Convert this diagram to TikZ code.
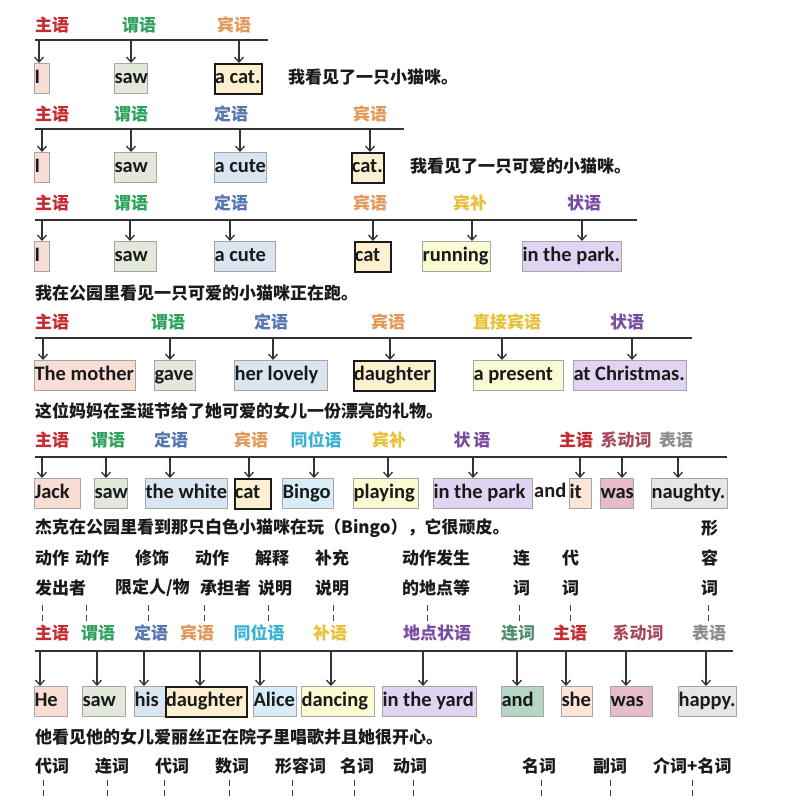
\documentclass[tikz,border=0pt]{standalone}
\usepackage{fontspec}
\setmainfont{Carlito}
\newfontfamily\cjk{Noto Sans CJK SC}
\usetikzlibrary{arrows.meta}
\definecolor{csubj}{HTML}{C42B32}
\definecolor{cpred}{HTML}{2FA35E}
\definecolor{cattr}{HTML}{5677B0}
\definecolor{cobj}{HTML}{E29A5C}
\definecolor{cappo}{HTML}{3AB3D3}
\definecolor{ccomp}{HTML}{E8C13A}
\definecolor{cadv}{HTML}{7A4C9F}
\definecolor{clink}{HTML}{A64A5E}
\definecolor{cpn}{HTML}{8C8C8C}
\definecolor{cconj}{HTML}{4E8C6E}
\definecolor{fsubjc}{HTML}{F8DDD5}
\definecolor{fpredc}{HTML}{E2E8DA}
\definecolor{fattrc}{HTML}{DAE5F2}
\definecolor{fobjc}{HTML}{FDF0D0}
\definecolor{fcompc}{HTML}{FBFBD3}
\definecolor{fadvc}{HTML}{E1D4F3}
\definecolor{fappoc}{HTML}{D8EDF8}
\definecolor{fitc}{HTML}{FCE4D6}
\definecolor{fwasc}{HTML}{E6BCC8}
\definecolor{fpnc}{HTML}{E6E6E6}
\definecolor{fandc}{HTML}{B5D6C6}
\definecolor{boxgray}{HTML}{A6A6A6}
\definecolor{ink}{HTML}{1A1A1A}
\tikzset{
  lab/.style={font=\cjk\bfseries\fontsize{17}{17}\selectfont, inner sep=0pt},
  sent/.style={font=\cjk\bfseries\fontsize{17}{17}\selectfont, inner sep=0pt, anchor=west, text=ink},
  desc/.style={font=\cjk\bfseries\fontsize{17}{17}\selectfont, inner sep=0pt, anchor=west, text=ink},
  wfont/.style={font=\bfseries\fontsize{20.5}{20.5}\selectfont, text height=15pt, text depth=5.5pt, text=ink},
  wbox/.style={wfont, draw=boxgray, line width=1pt, anchor=north west, inner xsep=0pt, inner ysep=0pt,
    minimum height=30pt},
  fsubj/.style={fill=fsubjc}, fpred/.style={fill=fpredc}, fattr/.style={fill=fattrc},
  fcomp/.style={fill=fcompc}, fadv/.style={fill=fadvc}, fappo/.style={fill=fappoc},
  fit/.style={fill=fitc}, fwas/.style={fill=fwasc}, fpn/.style={fill=fpnc}, fand/.style={fill=fandc},
  objb/.style={fill=fobjc, draw=ink, line width=1.6pt},
  rail/.style={line width=1.8pt, draw=black!80},
  arr/.style={line width=1.3pt, draw=black!80, -{Straight Barb[length=5pt,width=9pt]}},
  dsh/.style={line width=1pt, draw=black!75, dash pattern=on 6pt off 4pt},
}
\newcommand\wbx[6]{\node[wbox,#5] (#1) at (#2,#4) {\makebox[#3pt][l]{#6}};}
\newcommand\arw[4]{\coordinate (#1) at (#2,#3); \draw[arr] (#1) -- (#1 |- #4.north);}
\newcommand\dline[5]{\coordinate (#1a) at (#2,#3); \coordinate (#1b) at (#2,#4); \draw[dsh] (#1a) -- (#1b);}
\begin{document}
\begin{tikzpicture}[x=1pt,y=-1pt]
\fill[white] (0,0) rectangle (800,800);
\useasboundingbox (0,0) rectangle (800,800);

% ---------- Row 1 ----------
\node[lab,text=csubj] (l11) at (52,25) {主语};
\node[lab,text=cpred] (l12) at (139,25) {谓语};
\node[lab,text=cobj] (l13) at (234,25) {宾语};
\draw[rail] (35,40) coordinate (r1L) -- (268,40) coordinate (r1R);
\wbx{b11}{34}{15}{63}{fsubj}{I}
\wbx{b12}{114}{33}{63}{fpred}{saw}
\wbx{b13}{214}{47}{63}{objb}{a cat.}
\arw{a11}{39}{40}{b11}
\arw{a12}{131}{40}{b12}
\arw{a13}{239}{40}{b13}
\node[sent] (s1) at (288,77) {我看见了一只小猫咪。};

% ---------- Row 2 ----------
\node[lab,text=csubj] (l21) at (52,114) {主语};
\node[lab,text=cpred] (l22) at (131,114) {谓语};
\node[lab,text=cattr] (l23) at (231,114) {定语};
\node[lab,text=cobj] (l24) at (370,114) {宾语};
\draw[rail] (35,129) coordinate (r2L) -- (404,129) coordinate (r2R);
\wbx{b21}{34}{15}{152}{fsubj}{I}
\wbx{b22}{114}{42}{152}{fpred}{saw}
\wbx{b23}{214}{52}{152}{fattr}{a cute}
\wbx{b24}{351}{32}{152}{objb}{cat.}
\arw{a21}{42}{129}{b21}
\arw{a22}{131}{129}{b22}
\arw{a23}{240}{129}{b23}
\arw{a24}{370}{129}{b24}
\node[sent] (s2) at (410,166) {我看见了一只可爱的小猫咪。};

% ---------- Row 3 ----------
\node[lab,text=csubj] (l31) at (52,203) {主语};
\node[lab,text=cpred] (l32) at (131,203) {谓语};
\node[lab,text=cattr] (l33) at (231,203) {定语};
\node[lab,text=cobj] (l34) at (370,203) {宾语};
\node[lab,text=ccomp] (l35) at (470,203) {宾补};
\node[lab,text=cadv] (l36) at (584,203) {状语};
\draw[rail] (35,220) coordinate (r3L) -- (637,220) coordinate (r3R);
\wbx{b31}{34}{15}{241}{fsubj}{I}
\wbx{b32}{114}{42}{241}{fpred}{saw}
\wbx{b33}{214}{61}{241}{fattr}{a cute}
\wbx{b34}{354}{36}{241}{objb}{cat}
\wbx{b35}{422}{68}{241}{fcomp}{running}
\wbx{b36}{522}{99}{241}{fadv}{in the park.}
\arw{a31}{42}{220}{b31}
\arw{a32}{130}{220}{b32}
\arw{a33}{230}{220}{b33}
\arw{a34}{373}{220}{b34}
\arw{a35}{472}{220}{b35}
\arw{a36}{582}{220}{b36}
\node[sent] (s3) at (35,293) {我在公园里看见一只可爱的小猫咪正在跑。};

% ---------- Row 4 ----------
\node[lab,text=csubj] (l41) at (52,322) {主语};
\node[lab,text=cpred] (l42) at (168,322) {谓语};
\node[lab,text=cattr] (l43) at (271,322) {定语};
\node[lab,text=cobj] (l44) at (388,322) {宾语};
\node[lab,text=ccomp] (l45) at (507,322) {直接宾语};
\node[lab,text=cadv] (l46) at (627,322) {状语};
\draw[rail] (35,338) coordinate (r4L) -- (692,338) coordinate (r4R);
\wbx{b41}{34}{101}{360}{fsubj}{The mother}
\wbx{b42}{154}{41}{360}{fpred}{gave}
\wbx{b43}{234}{93}{360}{fattr}{her lovely}
\wbx{b44}{353}{81}{360}{objb}{daughter}
\wbx{b45}{473}{90}{360}{fcomp}{a present}
\wbx{b46}{573}{113}{360}{fadv}{at Christmas.}
\arw{a41}{43}{338}{b41}
\arw{a42}{170}{338}{b42}
\arw{a43}{273}{338}{b43}
\arw{a44}{390}{338}{b44}
\arw{a45}{502}{338}{b45}
\arw{a46}{632}{338}{b46}
\node[sent] (s4) at (35,411) {这位妈妈在圣诞节给了她可爱的女儿一份漂亮的礼物。};

% ---------- Row 5 ----------
\node[lab,text=csubj] (l51) at (52,440) {主语};
\node[lab,text=cpred] (l52) at (108,440) {谓语};
\node[lab,text=cattr] (l53) at (171,440) {定语};
\node[lab,text=cobj] (l54) at (251,440) {宾语};
\node[lab,text=cappo] (l55) at (316,440) {同位语};
\node[lab,text=ccomp] (l56) at (389,440) {宾补};
\node[lab,text=cadv] (l57) at (472,440) {状\,语};
\node[lab,text=csubj] (l58) at (576,440) {主语};
\node[lab,text=clink] (l59) at (626,440) {系动词};
\node[lab,text=cpn] (l5a) at (676,440) {表语};
\draw[rail] (35,457) coordinate (r5L) -- (727,457) coordinate (r5R);
\wbx{b51}{34}{46}{478}{fsubj}{Jack}
\wbx{b52}{94}{33}{478}{fpred}{saw}
\wbx{b53}{145}{82}{478}{fattr}{the white}
\wbx{b55}{282}{51}{478}{fappo}{Bingo}
\wbx{b56}{353}{65}{478}{fcomp}{playing}
\wbx{b57}{433}{99}{478}{fadv}{in the park}
\wbx{b58}{569}{22}{478}{fit}{it}
\wbx{b59}{600}{33}{478}{fwas}{was}
\wbx{b5a}{651}{76}{478}{fpn}{naughty.}
\wbx{b54}{234}{36}{478}{objb}{cat}
\node[wfont, inner sep=0pt, anchor=west] (and5) at (534,493) {and};
\arw{a51}{42}{457}{b51}
\arw{a52}{106}{457}{b52}
\arw{a53}{170}{457}{b53}
\arw{a54}{249}{457}{b54}
\arw{a55}{314}{457}{b55}
\arw{a56}{388}{457}{b56}
\arw{a57}{473}{457}{b57}
\arw{a58}{580}{457}{b58}
\arw{a59}{622}{457}{b59}
\arw{a5a}{678}{457}{b5a}
\node[sent] (s5) at (35,528) {杰克在公园里看到那只白色小猫咪在玩（Bingo），它很顽皮。};

% ---------- Row 6: functions ----------
\node[desc] (d1) at (35,558) {动作};
\node[desc] (d2) at (75,558) {动作};
\node[desc] (d3) at (135,558) {修饰};
\node[desc] (d4) at (195,558) {动作};
\node[desc] (d5) at (255,558) {解释};
\node[desc] (d6) at (315,558) {补充};
\node[desc] (d7) at (402,558) {动作发生};
\node[desc] (d8) at (513,558) {连};
\node[desc] (d9) at (562,558) {代};
\node[desc] (e1) at (35,588) {发出者};
\node[desc] (e3) at (115,588) {限定人/物};
\node[desc] (e4) at (200,588) {承担者};
\node[desc] (e5) at (258,588) {说明};
\node[desc] (e6) at (315,588) {说明};
\node[desc] (e7) at (402,588) {的地点等};
\node[desc] (e8) at (513,588) {词};
\node[desc] (e9) at (562,588) {词};
\node[desc] (f1) at (701,528) {形};
\node[desc] (f2) at (701,558) {容};
\node[desc] (f3) at (701,588) {词};
\dline{m1}{42}{605}{622}{}
\dline{m2}{86}{605}{622}{}
\dline{m3}{148}{605}{622}{}
\dline{m4}{204}{605}{622}{}
\dline{m5}{268}{605}{622}{}
\dline{m6}{333}{605}{622}{}
\dline{m7}{427}{605}{622}{}
\dline{m8}{519}{605}{622}{}
\dline{m9}{570}{605}{622}{}
\dline{mA}{708}{605}{622}{}

% ---------- Row 7 ----------
\node[lab,text=csubj] (l71) at (52,633) {主语};
\node[lab,text=cpred] (l72) at (98,633) {谓语};
\node[lab,text=cattr] (l73) at (151,633) {定语};
\node[lab,text=cobj] (l74) at (197,633) {宾语};
\node[lab,text=cappo] (l75) at (259,633) {同位语};
\node[lab,text=ccomp] (l76) at (330,633) {补语};
\node[lab,text=cadv] (l77) at (437,633) {地点状语};
\node[lab,text=cconj] (l78) at (518,633) {连词};
\node[lab,text=csubj] (l79) at (570,633) {主语};
\node[lab,text=clink] (l7a) at (638,633) {系动词};
\node[lab,text=cpn] (l7b) at (709,633) {表语};
\draw[rail] (35,651) coordinate (r7L) -- (733,651) coordinate (r7R);
\wbx{b71}{34}{33}{686}{fsubj}{He}
\wbx{b72}{82}{43}{686}{fpred}{saw}
\wbx{b73}{134}{31}{686}{fattr}{his}
\wbx{b75}{253}{43}{686}{fappo}{Alice}
\wbx{b76}{301}{73}{686}{fcomp}{dancing}
\wbx{b77}{382}{94}{686}{fadv}{in the yard}
\wbx{b78}{501}{42}{686}{fand}{and}
\wbx{b79}{561}{31}{686}{fit}{she}
\wbx{b7a}{610}{42}{686}{fwas}{was}
\wbx{b7b}{678}{58}{686}{fpn}{happy.}
\wbx{b74}{165}{81}{686}{objb}{daughter}
\arw{a71}{40}{651}{b71}
\arw{a72}{97}{651}{b72}
\arw{a73}{144}{651}{b73}
\arw{a74}{200}{651}{b74}
\arw{a75}{260}{651}{b75}
\arw{a76}{331}{651}{b76}
\arw{a77}{423}{651}{b77}
\arw{a78}{517}{651}{b78}
\arw{a79}{566}{651}{b79}
\arw{a7a}{626}{651}{b7a}
\arw{a7b}{706}{651}{b7b}
\node[sent] (s7) at (35,737) {他看见他的女儿爱丽丝正在院子里唱歌并且她很开心。};

% ---------- Row 8: parts of speech ----------
\node[desc] (p1) at (35,766) {代词};
\node[desc] (p2) at (95,766) {连词};
\node[desc] (p3) at (155,766) {代词};
\node[desc] (p4) at (215,766) {数词};
\node[desc] (p5) at (275,766) {形容词};
\node[desc] (p6) at (340,766) {名词};
\node[desc] (p7) at (393,766) {动词};
\node[desc] (p8) at (522,766) {名词};
\node[desc] (p9) at (593,766) {副词};
\node[desc] (pA) at (653,766) {介词+名词};
\dline{n1}{43}{780}{800}{}
\dline{n2}{107}{780}{800}{}
\dline{n3}{164}{780}{800}{}
\dline{n4}{229}{780}{800}{}
\dline{n5}{292}{780}{800}{}
\dline{n6}{354}{780}{800}{}
\dline{n7}{413}{780}{800}{}
\dline{n8}{541}{780}{800}{}
\dline{n9}{610}{780}{800}{}
\dline{nA}{692}{780}{800}{}
\end{tikzpicture}
\end{document}
